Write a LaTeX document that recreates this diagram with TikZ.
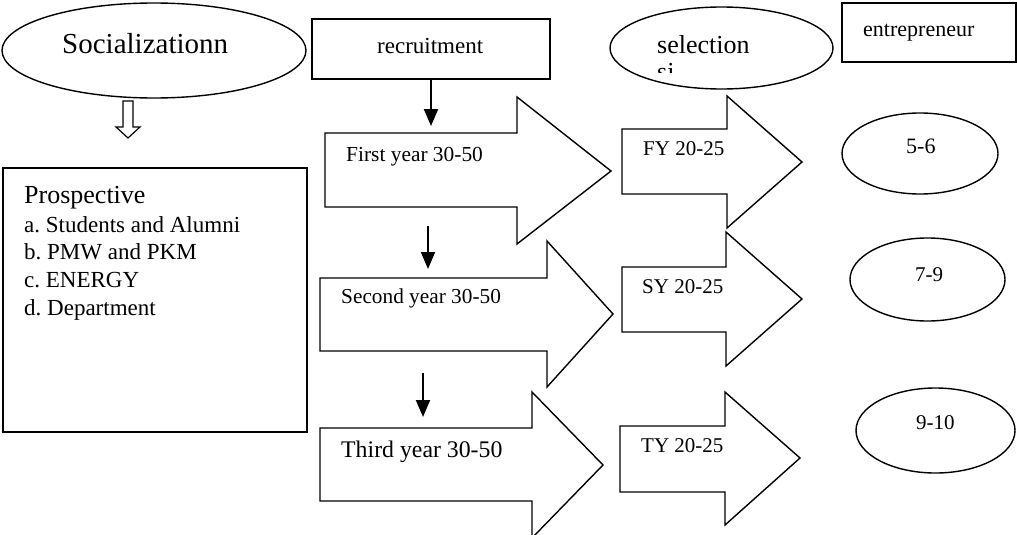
\documentclass[tikz,border=0pt]{standalone}
\usepackage{fontspec}
\setmainfont{Liberation Serif}
\usepackage{tikz}
\usetikzlibrary{shapes,arrows.meta,positioning}

\newcommand{\pxfont}[1]{\fontsize{#1}{#1}\selectfont}
\frenchspacing

\tikzset{
    outline/.style={draw, line width=1.4pt},
    oval/.style={outline, ellipse, inner sep=0pt},
    box/.style={outline, rectangle, inner sep=0pt},
    blockarrow/.style={outline, line join=miter},
    txt/.style={anchor=base west, inner sep=0pt},
    downarrow/.style={line width=2pt, -{Triangle[width=14pt,length=17pt]}}
}

\begin{document}
\begin{tikzpicture}[x=1pt, y=-1pt]
    \useasboundingbox (0,0) rectangle (1017,535);

    % Top row
    \node[oval, minimum width=304pt, minimum height=95pt] (social) at (154,50.5) {};
    \node[txt, font=\pxfont{29}] (socialtxt) at (62,53) {Socializationn};

    \node[box, minimum width=238pt, minimum height=60pt] (recruit) at (431,49) {};
    \node[txt, font=\pxfont{23}] (recruittxt) at (377,53) {recruitment};

    \node[oval, minimum width=223pt, minimum height=82pt] (select) at (721.5,48) {};
    \node[txt, font=\pxfont{26}] (selecttxt) at (657,53) {selection};
    \begin{scope}
        \clip (645,60) rectangle (700,73);
        \node[txt, font=\pxfont{26}] (selectcut) at (657,81) {si};
    \end{scope}

    \node[box, minimum width=174pt, minimum height=59pt] (entre) at (929,32.5) {};
    \node[txt, font=\pxfont{22}] (entretxt) at (863,37) {entrepreneur};

    % Hollow arrow
    \draw[line width=1.2pt] (123,101) -- (133,101) -- (133,127) -- (140,127)
        -- (128,138) -- (116,127) -- (123,127) -- cycle;

    % Prospective box
    \node[box, minimum width=304pt, minimum height=264pt] (prosp) at (155,300) {};
    \node[txt, font=\pxfont{26}] (prosptxt) at (24,203) {Prospective};
    \node[txt, font=\pxfont{23}] (pa) at (24,232) {a. Students and Alumni};
    \node[txt, font=\pxfont{23}] (pb) at (24,259) {b. PMW and PKM};
    \node[txt, font=\pxfont{23}] (pc) at (24,287) {c. ENERGY};
    \node[txt, font=\pxfont{23}] (pd) at (24,315) {d. Department};

    % Recruitment arrows
    \draw[blockarrow] (325,133) -- (517,133) -- (517,97) -- (611,171)
        -- (517,244) -- (517,207) -- (325,207) -- cycle;
    \node[txt, font=\pxfont{21.4}] (first) at (346,161) {First year 30-50};

    \draw[blockarrow] (320,278) -- (547,278) -- (547,241) -- (613,314)
        -- (547,387) -- (547,351) -- (320,351) -- cycle;
    \node[txt, font=\pxfont{21.3}] (second) at (341,303) {Second year 30-50};

    \draw[blockarrow] (320,428) -- (532,428) -- (532,392) -- (603,465)
        -- (532,538) -- (532,501) -- (320,501) -- cycle;
    \node[txt, font=\pxfont{23.8}] (third) at (341,457) {Third year 30-50};

    % Selection arrows
    \draw[blockarrow] (622,129) -- (727,129) -- (727,96) -- (802,162)
        -- (727,228) -- (727,194) -- (622,194) -- cycle;
    \node[txt, font=\pxfont{21}] (fy) at (643,155) {FY 20-25};

    \draw[blockarrow] (622,267) -- (726,267) -- (726,232) -- (802,299)
        -- (726,366) -- (726,332) -- (622,332) -- cycle;
    \node[txt, font=\pxfont{21}] (sy) at (642,293) {SY 20-25};

    \draw[blockarrow] (620,426) -- (725,426) -- (725,392) -- (800,458)
        -- (725,525) -- (725,492) -- (620,492) -- cycle;
    \node[txt, font=\pxfont{21}] (ty) at (641,452) {TY 20-25};

    % Entrepreneur ovals
    \node[oval, minimum width=156pt, minimum height=81pt] (r1) at (920,153.5) {};
    \node[txt, font=\pxfont{22}] (r1txt) at (906,153) {5-6};
    \node[oval, minimum width=155pt, minimum height=83pt] (r2) at (927.5,279.5) {};
    \node[txt, font=\pxfont{21}] (r2txt) at (915,281) {7-9};
    \node[oval, minimum width=159pt, minimum height=85pt] (r3) at (935.5,430.5) {};
    \node[txt, font=\pxfont{21}] (r3txt) at (916,429) {9-10};

    % Down arrows
    \coordinate (d1) at (431,126);
    \coordinate (d2top) at (428,226);
    \coordinate (d2) at (428,269);
    \coordinate (d3top) at (423,373);
    \coordinate (d3) at (423,417);
    \draw[downarrow] (recruit) -- (d1);
    \draw[downarrow] (d2top) -- (d2);
    \draw[downarrow] (d3top) -- (d3);
\end{tikzpicture}
\end{document}
